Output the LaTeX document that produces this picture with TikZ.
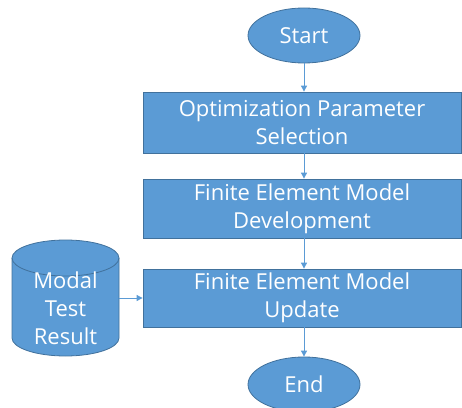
\documentclass[tikz,border=0pt]{standalone}
\usepackage{fontspec}
\setmainfont{Open Sans}
\usetikzlibrary{shapes.geometric,arrows.meta}
\definecolor{fillblue}{HTML}{5B9BD5}
\definecolor{edgeblue}{HTML}{41719C}
\tikzset{
  procbox/.style={rectangle, fill=fillblue, draw=edgeblue, line width=0.8pt, text=white, align=center,
    minimum width=318pt, minimum height=60pt, inner sep=0pt, font=\fontsize{22}{28}\selectfont},
  term/.style={ellipse, fill=fillblue, draw=edgeblue, line width=0.8pt, text=white,
    minimum width=112pt, minimum height=55pt, inner sep=0pt, font=\fontsize{22}{28}\selectfont},
  flow/.style={draw=fillblue, line width=0.9pt, -{Triangle[length=6pt,width=6pt]}},
}
\begin{document}
\begin{tikzpicture}[x=1pt,y=1pt]
\useasboundingbox (0,0) rectangle (462,407);
\node[term] (start) at (304,371.5) {Start};
\node[procbox, minimum height=61pt] (b1) at (302,284.5) {Optimization Parameter\\Selection};
\node[procbox, minimum height=59pt] (b2) at (302,198.5) {Finite Element Model\\Development};
\node[procbox, minimum height=58pt] (b3) at (302,109) {Finite Element Model\\Update};
\node[term] (end) at (304,22.5) {End};
% cylinder
\path[fill=fillblue, draw=edgeblue, line width=0.8pt]
  (12,149) -- (12,69) arc (180:360:53.5 and 18) -- (119,149) arc (0:180:53.5 and 18) -- cycle;
\draw[edgeblue, line width=0.8pt] (12,149) arc (180:360:53.5 and 18);
\node[rectangle, minimum width=107pt, minimum height=116pt, inner sep=0pt] (cyl) at (65.5,109) {};
\node[text=white, align=center, font=\fontsize{22}{28}\selectfont] (cyltext) at (65.5,99) {Modal\\Test\\Result};
% connectors
\draw[flow] (start.south) -- (start.south |- b1.north);
\draw[flow] (b1.south -| start.south) -- (start.south |- b2.north);
\draw[flow] (b2.south -| start.south) -- (start.south |- b3.north);
\draw[flow] (b3.south -| start.south) -- (end.north);
\draw[flow] (cyl.east) -- (b3.west);
\end{tikzpicture}
\end{document}
